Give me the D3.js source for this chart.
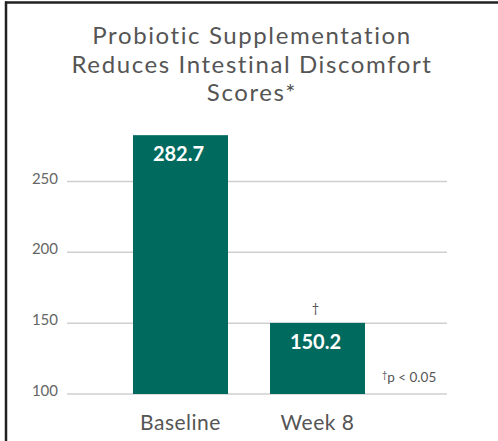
<!DOCTYPE html>
<html><head><meta charset="utf-8">
<script src="https://cdn.jsdelivr.net/npm/d3@7"></script>
<style>body{margin:0;background:#fff}svg{display:block}</style>
</head><body>
<script>
const categories = ["Baseline", "Week 8"];
const values = [282.7, 150.2];
const valueLabels = ["282.7", "150.2"];
const ticks = [100, 150, 200, 250];
const titleLines = ["Probiotic Supplementation", "Reduces Intestinal Discomfort", "Scores*"];
const sigMarks = ["", "†"];

const W = 498, H = 441;
const svg = d3.select("body").append("svg").attr("width", W).attr("height", H);
const font = "Lato, 'Open Sans', sans-serif";
const textColor = "#555";

// frame
svg.append("line").attr("x1", 5).attr("x2", W).attr("y1", 2.5).attr("y2", 2.5).attr("stroke", "#222").attr("stroke-width", 2.5);
svg.append("line").attr("x1", 6).attr("x2", 6).attr("y1", 1.5).attr("y2", H).attr("stroke", "#222").attr("stroke-width", 2.5);

// title
svg.selectAll("text.title").data(titleLines).join("text").attr("class", "title")
  .attr("x", 252).attr("y", (d, i) => 44 + i * 28.5).attr("text-anchor", "middle")
  .attr("font-family", font).attr("font-size", 24).attr("letter-spacing", 1.6)
  .attr("fill", textColor).text(d => d);

const y = d3.scaleLinear().domain([100, 250]).range([394, 181.5]);
const x = d3.scaleBand().domain(categories).range([133, 365]).paddingInner(0.3066).paddingOuter(0);

// grid
const grid = svg.append("g");
grid.selectAll("line").data(ticks).join("line")
  .attr("x1", 67).attr("x2", 447).attr("y1", d => y(d)).attr("y2", d => y(d))
  .attr("stroke", "#cfcfcf").attr("stroke-width", 1.5);

// y axis labels
const yAxis = d3.axisLeft(y).tickValues(ticks).tickSize(0).tickPadding(0);
const ga = svg.append("g").attr("transform", "translate(58,0)").call(yAxis);
ga.select(".domain").remove();
ga.selectAll("text").attr("font-family", font).attr("font-size", 15).attr("fill", "#666").attr("dy", "0.1em");

// bars
svg.selectAll("rect.bar").data(categories).join("rect").attr("class", "bar")
  .attr("x", d => x(d)).attr("width", x.bandwidth())
  .attr("y", (d, i) => y(values[i])).attr("height", (d, i) => y(100) - y(values[i]))
  .attr("fill", "#006a5e");

// value labels
svg.selectAll("text.val").data(categories).join("text").attr("class", "val")
  .attr("x", d => x(d) + x.bandwidth() / 2 - 2).attr("y", (d, i) => y(values[i]) + 26)
  .attr("text-anchor", "middle").attr("font-family", font).attr("font-weight", 700)
  .attr("font-size", 20).attr("fill", "#fff").text((d, i) => valueLabels[i]);

// significance marks
svg.selectAll("text.sig").data(categories).join("text").attr("class", "sig")
  .attr("x", d => x(d) + x.bandwidth() / 2 - 2).attr("y", (d, i) => y(values[i]) - 10)
  .attr("text-anchor", "middle").attr("font-family", font).attr("font-size", 13)
  .attr("fill", "#555").text((d, i) => sigMarks[i]);

// category labels
svg.selectAll("text.cat").data(categories).join("text").attr("class", "cat")
  .attr("x", d => x(d) + x.bandwidth() / 2).attr("y", 430)
  .attr("text-anchor", "middle").attr("font-family", font).attr("font-size", 21)
  .attr("letter-spacing", 0.5).attr("fill", textColor).text(d => d);

// footnote
const fn = svg.append("text").attr("x", 382).attr("y", 382).attr("font-family", font)
  .attr("font-size", 13.5).attr("fill", "#555");
fn.append("tspan").attr("font-size", 9).attr("dy", -4).text("†");
fn.append("tspan").attr("dy", 4).text("p < 0.05");
</script>
</body></html>
